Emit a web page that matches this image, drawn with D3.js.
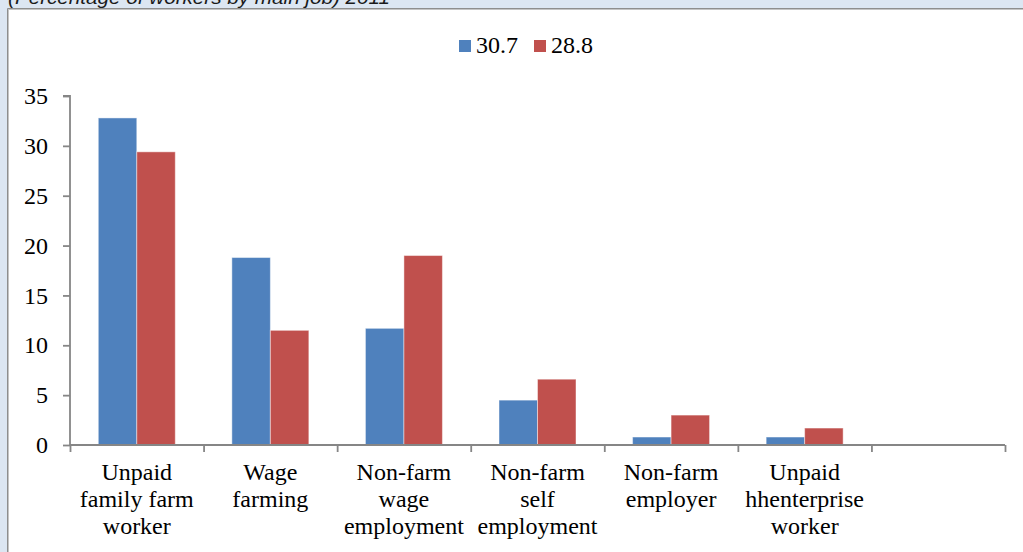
<!DOCTYPE html>
<html>
<head>
<meta charset="utf-8">
<script src="https://cdn.jsdelivr.net/npm/d3@7"></script>
<style>
  html, body { margin: 0; padding: 0; background: #dce6f2; }
  svg { display: block; }
</style>
</head>
<body>
<svg id="chart" width="1023" height="552"></svg>
<script>
const categories = [
  ["Unpaid", "family farm", "worker"],
  ["Wage", "farming"],
  ["Non-farm", "wage", "employment"],
  ["Non-farm", "self", "employment"],
  ["Non-farm", "employer"],
  ["Unpaid", "hhenterprise", "worker"],
  [""]
];
const seriesNames = ["30.7", "28.8"];
const series1 = [32.8, 18.8, 11.7, 4.5, 0.8, 0.8, null];
const series2 = [29.4, 11.5, 19.0, 6.6, 3.0, 1.7, null];
const yTicks = [0, 5, 10, 15, 20, 25, 30, 35];
const colors = ["#4f81bd", "#c0504d"];
const titleText = "(Percentage of workers by main job) 2011";

const svg = d3.select("#chart");

// background panel
svg.append("rect").attr("x", 0).attr("y", 0).attr("width", 1023).attr("height", 552).attr("fill", "#dce6f2");
svg.append("rect").attr("x", 8).attr("y", 9).attr("width", 1015).attr("height", 543).attr("fill", "#ffffff");
svg.append("line").attr("x1", 7.5).attr("x2", 1023).attr("y1", 8.5).attr("y2", 8.5).attr("stroke", "#8e8e8e").attr("stroke-width", 1);
svg.append("line").attr("x1", 7.5).attr("x2", 1023).attr("y1", 9.5).attr("y2", 9.5).attr("stroke", "#c4c4c4").attr("stroke-width", 1);
svg.append("line").attr("x1", 7.5).attr("x2", 7.5).attr("y1", 8.5).attr("y2", 552).attr("stroke", "#8e8e8e").attr("stroke-width", 1);
svg.append("line").attr("x1", 8.5).attr("x2", 8.5).attr("y1", 9.5).attr("y2", 552).attr("stroke", "#c4c4c4").attr("stroke-width", 1);

// clipped title (cut off at the top edge, as in the source)
svg.append("text")
  .attr("x", 8).attr("y", 4)
  .attr("font-family", "Liberation Sans, Arial, sans-serif")
  .attr("font-style", "italic")
  .attr("font-size", 19)
  .attr("fill", "#1a1a1a")
  .attr("textLength", 382)
  .attr("lengthAdjust", "spacingAndGlyphs")
  .text(titleText);

const x0 = 70, x1 = 1005, yBase = 445, yTop = 96;
const keys = categories.map((c, i) => i);
const x = d3.scaleBand().domain(keys).range([x0, x1]).padding(0);
const xs = d3.scaleBand().domain([0, 1]).range([0, x.bandwidth()]).paddingInner(0).paddingOuter(0.735);
const y = d3.scaleLinear().domain([0, 35]).range([yBase, yTop]);

const axisColor = "#868686";
const serif = "'Liberation Serif', 'Times New Roman', serif";
const fs = 24;

// bars
const data = [series1, series2];
data.forEach((vals, s) => {
  svg.append("g").selectAll("rect")
    .data(vals.map((v, i) => ({ v, i })).filter(d => d.v !== null))
    .join("rect")
    .attr("x", d => x(d.i) + xs(s))
    .attr("y", d => y(d.v))
    .attr("width", xs.bandwidth())
    .attr("height", d => y(0) - y(d.v))
    .attr("fill", colors[s])
    .attr("stroke", "rgba(255,255,255,0.45)")
    .attr("stroke-width", 1);
});

// y axis
const yAxis = svg.append("g").attr("transform", `translate(${x0},0)`)
  .call(d3.axisLeft(y).tickValues(yTicks).tickSize(7).tickPadding(15).tickFormat(d3.format("d")));
yAxis.select(".domain").attr("stroke", axisColor).attr("stroke-width", 1.8).attr("d", `M-7,${yTop}H0V${yBase}`);
yAxis.selectAll(".tick line").attr("stroke", axisColor).attr("stroke-width", 1.8);
yAxis.selectAll(".tick text").attr("font-family", serif).attr("font-size", fs).attr("fill", "#000");

// x axis (ticks at category boundaries)
const xb = d3.scaleLinear().domain([0, categories.length]).range([x0, x1]);
const xAxis = svg.append("g").attr("transform", `translate(0,${yBase})`)
  .call(d3.axisBottom(xb).tickValues(d3.range(categories.length + 1)).tickSize(7).tickFormat(""));
xAxis.select(".domain").attr("stroke", axisColor).attr("stroke-width", 1.8).attr("d", `M${x0},0H${x1}`);
xAxis.selectAll(".tick line").attr("stroke", axisColor).attr("stroke-width", 1.8);

// category labels
const lbl = svg.append("g").attr("font-family", serif).attr("font-size", fs).attr("fill", "#000").attr("text-anchor", "middle");
categories.forEach((lines, i) => {
  const cx = x(i) + x.bandwidth() / 2;
  const t = lbl.append("text").attr("x", cx).attr("y", 480);
  lines.forEach((ln, j) => {
    t.append("tspan").attr("x", cx).attr("y", 480 + j * 27).text(ln);
  });
});

// legend
const leg = svg.append("g").attr("font-family", serif).attr("font-size", fs).attr("fill", "#000");
const legX = [459, 534];
seriesNames.forEach((n, i) => {
  leg.append("rect").attr("x", legX[i]).attr("y", 40).attr("width", 12).attr("height", 12).attr("fill", colors[i]);
  leg.append("text").attr("x", legX[i] + 17).attr("y", 53).text(n);
});
</script>
</body>
</html>
